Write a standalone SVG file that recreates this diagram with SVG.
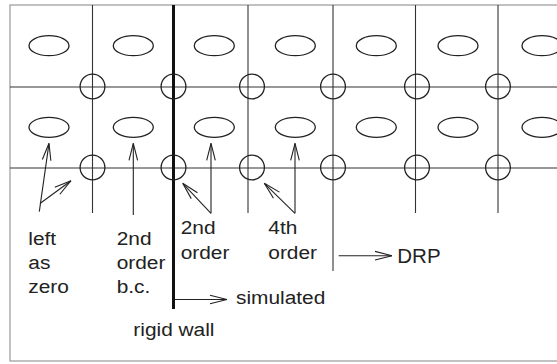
<svg xmlns="http://www.w3.org/2000/svg" width="557" height="364" viewBox="0 0 557 364">
<defs>
<marker id="ah" markerUnits="userSpaceOnUse" markerWidth="40" markerHeight="40" refX="20" refY="20" orient="auto" viewBox="0 0 40 40">
<path d="M20,20 L3,15.7 M20,20 L3,24.3" fill="none" stroke="#222" stroke-width="1.1"/>
</marker>
</defs>
<style>
.grid{stroke:#333;stroke-width:1.1;fill:none}
.wall{stroke:#111;stroke-width:3;fill:none}
.cell{stroke:#222;stroke-width:1.3;fill:none}
.node{stroke:#222;stroke-width:1.3;fill:none}
.arr{stroke:#222;stroke-width:1.1;fill:none}
.lbl{font-family:"Liberation Sans",Arial,sans-serif;font-size:18px;fill:#222}
</style>
<rect x="10" y="5" width="560" height="356" fill="#fff" stroke="#999" stroke-width="1.2"/>
<g id="grid">
<line class="grid" x1="10" y1="87" x2="557" y2="87"/>
<line class="grid" x1="10" y1="168" x2="557" y2="168"/>
<line class="grid" x1="92.5" y1="5" x2="92.5" y2="213"/>
<line class="grid" x1="248" y1="5" x2="248" y2="213"/>
<line class="grid" x1="333" y1="5" x2="333" y2="271"/>
<line class="grid" x1="415.5" y1="5" x2="415.5" y2="213"/>
<line class="grid" x1="498" y1="5" x2="498" y2="213"/>
<line class="wall" x1="173.5" y1="5" x2="173.5" y2="309"/>
</g>
<g id="cells">
<ellipse class="cell" cx="49" cy="45.7" rx="20" ry="10"/>
<ellipse class="cell" cx="133.3" cy="45.7" rx="20" ry="10"/>
<ellipse class="cell" cx="214.3" cy="45.7" rx="20" ry="10"/>
<ellipse class="cell" cx="295.3" cy="45.7" rx="20" ry="10"/>
<ellipse class="cell" cx="376.3" cy="45.7" rx="20" ry="10"/>
<ellipse class="cell" cx="458" cy="45.7" rx="20" ry="10"/>
<ellipse class="cell" cx="542" cy="45.7" rx="20" ry="10"/>
<ellipse class="cell" cx="49" cy="127.3" rx="20" ry="10"/>
<ellipse class="cell" cx="133.3" cy="127.3" rx="20" ry="10"/>
<ellipse class="cell" cx="214.3" cy="127.3" rx="20" ry="10"/>
<ellipse class="cell" cx="295.3" cy="127.3" rx="20" ry="10"/>
<ellipse class="cell" cx="376.3" cy="127.3" rx="20" ry="10"/>
<ellipse class="cell" cx="458" cy="127.3" rx="20" ry="10"/>
<ellipse class="cell" cx="542" cy="127.3" rx="20" ry="10"/>
</g>
<g id="nodes">
<circle class="node" cx="92.5" cy="86.5" r="12.4"/>
<circle class="node" cx="173.5" cy="86.5" r="12.4"/>
<circle class="node" cx="252" cy="86.5" r="12.4"/>
<circle class="node" cx="333" cy="86.5" r="12.4"/>
<circle class="node" cx="417" cy="86.5" r="12.4"/>
<circle class="node" cx="498" cy="86.5" r="12.4"/>
<circle class="node" cx="92.5" cy="167.5" r="12.4"/>
<circle class="node" cx="173.5" cy="167.5" r="12.4"/>
<circle class="node" cx="252" cy="167.5" r="12.4"/>
<circle class="node" cx="333" cy="167.5" r="12.4"/>
<circle class="node" cx="417" cy="167.5" r="12.4"/>
<circle class="node" cx="498" cy="167.5" r="12.4"/>
</g>
<g id="connectors">
<line class="arr" x1="39.3" y1="211.7" x2="49" y2="143.3" marker-end="url(#ah)"/>
<line class="arr" x1="40" y1="203.5" x2="71" y2="180.7" marker-end="url(#ah)"/>
<line class="arr" x1="133.3" y1="215" x2="133.3" y2="143.3" marker-end="url(#ah)"/>
<line class="arr" x1="211" y1="213.3" x2="211" y2="143.3" marker-end="url(#ah)"/>
<line class="arr" x1="211" y1="213.3" x2="182.7" y2="183.3" marker-end="url(#ah)"/>
<line class="arr" x1="295" y1="213.3" x2="295" y2="143.3" marker-end="url(#ah)"/>
<line class="arr" x1="295" y1="213.3" x2="264.3" y2="183.3" marker-end="url(#ah)"/>
<line class="arr" x1="175" y1="299.5" x2="227" y2="299.5" marker-end="url(#ah)"/>
<line class="arr" x1="338.7" y1="255.7" x2="392" y2="255.7" marker-end="url(#ah)"/>
</g>
<g id="labels">
<text class="lbl" transform="translate(28.3,245) scale(1.16,1)"><tspan x="0" y="0">left</tspan><tspan x="0" y="24.3">as</tspan><tspan x="0" y="48.5">zero</tspan></text>
<text class="lbl" transform="translate(116.7,245) scale(1.16,1)"><tspan x="0" y="0">2nd</tspan><tspan x="0" y="24.3">order</tspan><tspan x="0" y="48.5">b.c.</tspan></text>
<text class="lbl" transform="translate(180.7,234.3) scale(1.16,1)"><tspan x="0" y="0">2nd</tspan><tspan x="0" y="25">order</tspan></text>
<text class="lbl" transform="translate(268.3,234.3) scale(1.16,1)"><tspan x="0" y="0">4th</tspan><tspan x="0" y="25">order</tspan></text>
<text class="lbl" transform="translate(236,304) scale(1.16,1)">simulated</text>
<text class="lbl" transform="translate(133.3,335.7) scale(1.16,1)">rigid wall</text>
<text class="lbl" x="397.3" y="262.7" style="font-size:20.5px">DRP</text>
</g>
</svg>
